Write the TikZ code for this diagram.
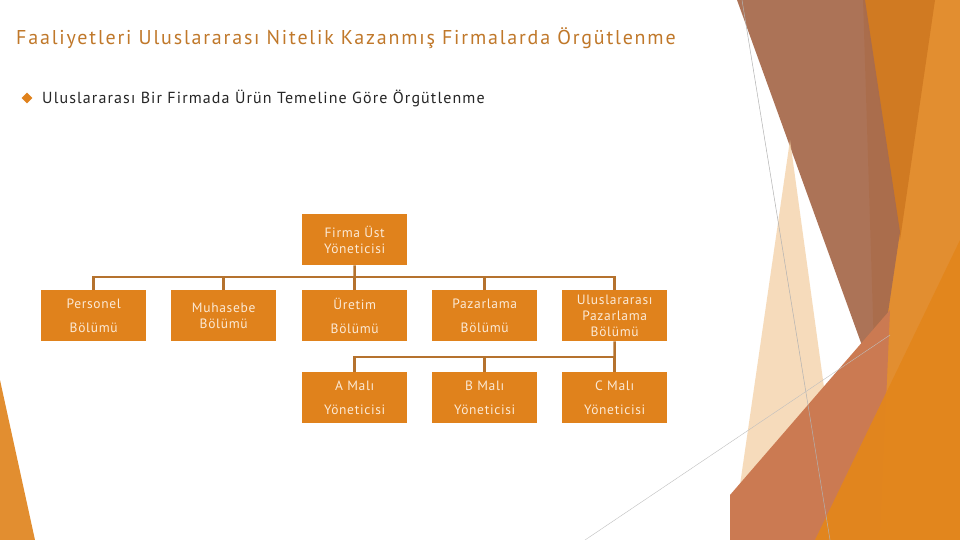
\documentclass[tikz,border=0pt]{standalone}
\usepackage{fontspec}
\usetikzlibrary{shapes.geometric}
\setmainfont{PT Sans}
\definecolor{boxor}{HTML}{E0821C}
\definecolor{lineor}{HTML}{B5722E}
\definecolor{titor}{HTML}{C0782A}
\definecolor{txtw}{HTML}{FBE9D5}
\begin{document}
\begin{tikzpicture}[x=1pt,y=-1pt,
  box/.style={draw=none,fill=boxor,minimum width=105pt,minimum height=51pt,inner sep=1pt,text=txtw,font=\fontsize{13.5}{16}\selectfont\addfontfeatures{LetterSpace=5},align=center,anchor=north west},
  box2/.style={box,font=\fontsize{13.5}{24}\selectfont\addfontfeatures{LetterSpace=5}},
  conn/.style={draw=lineor,line width=2.5pt}]
\useasboundingbox (0,0) rectangle (960,540);
\fill[white] (0,0) rectangle (960,540);
% decoration
\fill[color={rgb,255:red,226;green,142;blue,48}] (863,0)--(960,0)--(960,540)--(880,540)--cycle;
\fill[color={rgb,255:red,208;green,122;blue,34}] (863,0)--(935,0)--(900,240)--cycle;
\fill[color={rgb,255:red,168;green,108;blue,78},opacity=0.95] (737,0)--(865,0)--(900,232)--(877,387)--cycle;
\fill[color={rgb,255:red,243;green,208;blue,165},opacity=0.75] (790,140)--(845,540)--(732,540)--cycle;
\fill[color={rgb,255:red,203;green,122;blue,82}] (730,540)--(730,495)--(890,310)--(880,540)--cycle;
\fill[color={rgb,255:red,227;green,134;blue,28},opacity=0.95] (815,540)--(960,240)--(960,540)--cycle;
\draw[gray!60,line width=0.5pt] (742,0)--(830,540);
\draw[gray!50,line width=0.4pt] (585,540)--(890,335);
\fill[color={rgb,255:red,226;green,142;blue,48}] (0,380)--(35,540)--(0,540)--cycle;
% titles
\node[anchor=west,text=titor,font=\fontsize{20}{24}\selectfont\addfontfeatures{LetterSpace=9},inner sep=0] (title) at (16,38) {Faaliyetleri Uluslararası Nitelik Kazanmış Firmalarda Örgütlenme};
\node[diamond,fill=boxor,inner sep=0,minimum width=11pt,minimum height=11pt] (bul) at (27,98) {};
\node[anchor=west,text=black!85,font=\fontsize{16}{20}\selectfont\addfontfeatures{LetterSpace=7},inner sep=0] (sub) at (42,98) {Uluslararası Bir Firmada Ürün Temeline Göre Örgütlenme};
% boxes
\node[box] (top) at (302,214) {Firma Üst\\Yöneticisi};
\node[box2] (per) at (41,290) {Personel\\Bölümü};
\node[box] (muh) at (171,290) {Muhasebe\\Bölümü};
\node[box2] (ure) at (302,290) {Üretim\\Bölümü};
\node[box2] (paz) at (432,290) {Pazarlama\\Bölümü};
\node[box] (ulp) at (562,290) {Uluslararası\\Pazarlama\\Bölümü};
\node[box2] (a) at (302,372) {A Malı\\Yöneticisi};
\node[box2] (b) at (432,372) {B Malı\\Yöneticisi};
\node[box2] (c) at (562,372) {C Malı\\Yöneticisi};
% connectors
\coordinate (h1) at (354.5,277);
\draw[conn] (top.south) -- (h1);
\draw[conn] (per.north) -- ++(0,-13) -| (ulp.north);
\foreach \n in {muh,ure,paz} \draw[conn] (\n.north) -- ++(0,-13);
\coordinate (h2) at (614.5,357);
\draw[conn] (ulp.south) -- (h2);
\draw[conn] (a.north) -- ++(0,-15) -| (c.north);
\draw[conn] (b.north) -- ++(0,-15);
\end{tikzpicture}
\end{document}
